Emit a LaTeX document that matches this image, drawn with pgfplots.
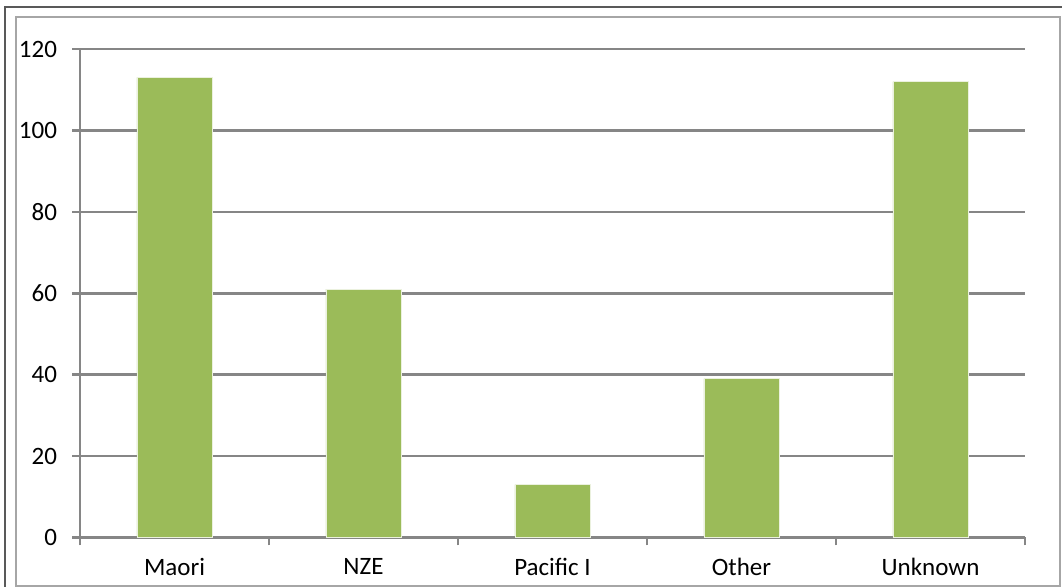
\documentclass[border=0pt]{standalone}
\usepackage{pgfplots}
\pgfplotsset{compat=1.18}
\usepackage{fontspec}
\setmainfont{Carlito}
\definecolor{bargreen}{HTML}{9BBB59}
\definecolor{gridgray}{HTML}{868686}
\begin{document}
\begin{tikzpicture}
\useasboundingbox (0pt,0pt) rectangle (531pt,293.5pt);
\draw[color=black!65, line width=0.6pt] (2.5pt,-5pt) -- (2.5pt,290pt) -- (540pt,290pt);
\draw[color=black!35, line width=1.2pt] (8pt,0.25pt) rectangle (530pt,285pt);
\begin{axis}[
  at={(40pt,24.75pt)}, anchor=south west,
  scale only axis, width=472.5pt, height=244.25pt,
  xmin=-0.5, xmax=4.5, ymin=0, ymax=120,
  axis x line=bottom, axis y line=left,
  axis line style={-, gridgray, line width=1.3pt},
  ytick={0,20,...,120},
  ymajorgrids, major grid style={gridgray, line width=1.3pt},
  xtick={-0.5,0.5,...,4.5}, xticklabels={},
  extra x ticks={0,1,2,3,4},
  extra x tick labels={Maori,NZE,Pacific I,Other,Unknown},
  extra x tick style={major tick length=0pt, grid=none},
  tick style={gridgray, line width=1.3pt},
  major tick length=4pt,
  tick align=outside,
  xtick pos=bottom, ytick pos=left,
  ticklabel style={font=\fontsize{12.5}{14}\selectfont, text=black},
  /pgf/number format/assume math mode=true,
  yticklabel style={xshift=-4pt},
  xticklabel style={yshift=-7pt},
  clip=false,
]
\addplot[ybar, bar width=37.5pt, fill=bargreen, draw=white!80!bargreen, line width=0.3pt]
  coordinates {(0,113) (1,61) (2,13) (3,39) (4,112)};
\end{axis}
\end{tikzpicture}
\end{document}
